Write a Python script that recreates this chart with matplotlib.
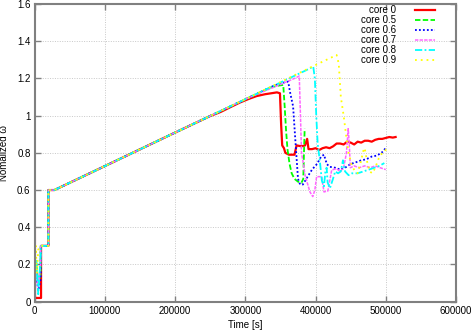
import matplotlib
matplotlib.use('Agg')
import matplotlib.pyplot as plt
from matplotlib.ticker import FormatStrFormatter

plt.rcParams['font.family'] = ['Liberation Sans', 'DejaVu Sans']

# shared start-up and linear ramp
ramp_t = [28000, 100000, 200000, 300000]
ramp_w = [0.60, 0.729, 0.909, 1.088]

t0 = [0, 400, 9000, 9001, 19400, 19401]
w0 = [1.12, 0.02, 0.02, 0.30, 0.30, 0.60]
t0_tail = [250000, 265000, 280000, 292000, 305000, 316000, 328000, 340000, 345000, 349300,
           351000, 352500, 355000, 357000, 362000, 370000,
           373000, 380000, 385000, 388000, 390000, 395000, 400000, 405000, 410000, 415000,
           420000, 425000, 430000, 435000, 440000, 445000, 450000, 455000, 460000, 465000,
           470000, 475000, 480000, 485000, 490000, 495000, 500000, 505000, 510000, 514000]
w0_tail = [0.998, 1.02, 1.048, 1.07, 1.09, 1.105, 1.115, 1.122, 1.125, 1.12,
           0.95, 0.84, 0.825, 0.80, 0.79, 0.79,
           0.84, 0.835, 0.84, 0.875, 0.82, 0.82, 0.825, 0.815, 0.825, 0.83,
           0.825, 0.835, 0.85, 0.85, 0.845, 0.86, 0.855, 0.845, 0.86, 0.855,
           0.865, 0.865, 0.86, 0.87, 0.875, 0.875, 0.88, 0.885, 0.882, 0.885]

t05 = [0, 500, 2500, 5000, 8500, 8501, 19400, 19401]
w05 = [0.50, 0.12, 0.20, 0.10, 0.15, 0.30, 0.30, 0.60]
t05_tail = [335000, 345000, 354000, 356000, 358000, 360000, 363000, 366000, 370000, 375000,
            380000, 382500, 383500, 384500]
w05_tail = [1.15, 1.16, 1.165, 1.05, 0.92, 0.82, 0.74, 0.69, 0.66, 0.645,
            0.64, 0.66, 0.80, 0.93]

t06 = [0, 500, 2500, 5000, 8500, 8501, 19400, 19401]
w06 = [0.70, 0.08, 0.15, 0.06, 0.12, 0.30, 0.30, 0.60]
t06_tail = [340000, 355000, 361000, 364000, 368000, 371000, 375000, 378000, 382000, 386000,
            390000, 395000, 402000, 408000, 412000, 416000, 420000, 428000, 435000, 442000,
            450000, 458000, 465000, 472000, 480000, 487000, 494000, 501000]
w06_tail = [1.16, 1.178, 1.183, 1.12, 1.05, 0.88, 0.66, 0.63, 0.63, 0.655,
            0.68, 0.71, 0.74, 0.78, 0.79, 0.74, 0.725, 0.72, 0.71, 0.72,
            0.74, 0.75, 0.76, 0.765, 0.78, 0.785, 0.80, 0.83]

t07 = [0, 500, 2500, 5000, 8500, 8501, 19400, 19401]
w07 = [0.45, 0.05, 0.18, 0.08, 0.20, 0.30, 0.30, 0.60]
t07_tail = [370000, 376800, 378500, 380000, 382500, 385000, 392000, 396000, 399000, 401500,
            408700, 412000, 417500, 423000, 430000, 435000, 440000, 444000, 446500, 448000,
            449500, 455000, 462000, 470000, 478000, 485000, 492000, 500000]
w07_tail = [1.20, 1.213, 1.0, 0.80, 0.745, 0.68, 0.59, 0.565, 0.60, 0.672,
            0.672, 0.59, 0.595, 0.708, 0.715, 0.70, 0.72, 0.80, 0.93, 0.85,
            0.72, 0.73, 0.72, 0.73, 0.72, 0.73, 0.72, 0.71]

t08 = [0, 500, 2500, 5000, 8500, 8501, 19400, 19401]
w08 = [0.35, 0.10, 0.22, 0.04, 0.25, 0.30, 0.30, 0.60]
t08_tail = [390000, 396700, 399000, 401000, 403000, 406000, 409000, 412000, 414000, 415800,
            417200, 420500, 424800, 428000, 432000, 436000, 439000, 442000, 447000, 452000,
            460000, 468000, 476000, 484000, 491000, 498000]
w08_tail = [1.25, 1.264, 1.2, 1.0, 0.85, 0.76, 0.65, 0.62, 0.70, 0.72,
            0.64, 0.61, 0.66, 0.70, 0.69, 0.70, 0.76, 0.70, 0.68, 0.69,
            0.69, 0.70, 0.71, 0.72, 0.73, 0.745]

t09 = [0, 500, 1500, 3000, 5000, 8500, 19400, 19401]
w09 = [1.60, 0.25, 0.30, 0.15, 0.28, 0.30, 0.30, 0.60]
t09_tail = [400000, 430000, 433000, 436000, 440000, 444000, 447000, 451000, 456000, 460000,
            464000, 468000, 470000, 473000, 477000, 481000, 485000, 490000, 495000, 499000,
            502000]
w09_tail = [1.272, 1.326, 1.28, 1.10, 1.00, 0.88, 0.80, 0.74, 0.70, 0.69,
            0.745, 0.81, 0.826, 0.76, 0.70, 0.69, 0.72, 0.77, 0.80, 0.81,
            0.83]

labels = ['core 0', 'core 0.5', 'core 0.6', 'core 0.7', 'core 0.8', 'core 0.9']
colors = ['#ff0000', '#00ff00', '#0000ff', '#ff66ff', '#00ffff', '#ffff00']
styles = ['-', (0, (3, 1.3)), (0, (1, 1.2)), (0, (2.2, 0.8)), (0, (4, 1.3, 1, 1.3)), (0, (1, 2.2))]
widths = [1.6, 1.3, 1.3, 1.1, 1.3, 1.3]


def ramp_until(tail_t):
    # ramp points before the series leaves the common line
    t = [x for x in ramp_t if x < tail_t[0]]
    w = [ramp_w[i] for i in range(len(ramp_t)) if ramp_t[i] < tail_t[0]]
    return t, w


heads = [(t0, w0), (t05, w05), (t06, w06), (t07, w07), (t08, w08), (t09, w09)]
tails = [(t0_tail, w0_tail), (t05_tail, w05_tail), (t06_tail, w06_tail),
         (t07_tail, w07_tail), (t08_tail, w08_tail), (t09_tail, w09_tail)]

fig = plt.figure(figsize=(4.73, 3.30), dpi=100)
ax = fig.add_axes([0.0734, 0.0858, 0.8906, 0.9021])

for i in range(6):
    rt, rw = ramp_until(tails[i][0])
    t = heads[i][0] + rt + tails[i][0]
    w = heads[i][1] + rw + tails[i][1]
    ax.plot(t, w, color=colors[i], linestyle=styles[i], lw=widths[i], label=labels[i])

ax.set_xlim(0, 600000)
ax.set_ylim(0, 1.6)
ax.set_xticks([0, 100000, 200000, 300000, 400000, 500000, 600000])
ax.set_yticks([0, 0.2, 0.4, 0.6, 0.8, 1.0, 1.2, 1.4, 1.6])
ax.yaxis.set_major_formatter(FormatStrFormatter('%g'))
ax.xaxis.set_major_formatter(FormatStrFormatter('%d'))
ax.tick_params(direction='in', length=4, width=1, color='#808080', labelsize=7,
               top=True, right=True, pad=3)
ax.grid(True, color='#c8c8c8', linestyle=(0, (1, 1.5)), lw=0.7)
for s in ax.spines.values():
    s.set_color('#808080')
    s.set_linewidth(1.5)

ax.set_xlabel('Time [s]', fontsize=7, labelpad=3)
ax.set_ylabel('Nomalized ω', fontsize=7, labelpad=6)

ax.legend(loc='upper right', bbox_to_anchor=(0.95, 0.995), frameon=False, fontsize=7,
          markerfirst=False, handlelength=2.0, handletextpad=2.0, labelspacing=0.0,
          borderaxespad=0, borderpad=0)

fig.savefig('out.png', dpi=100)
